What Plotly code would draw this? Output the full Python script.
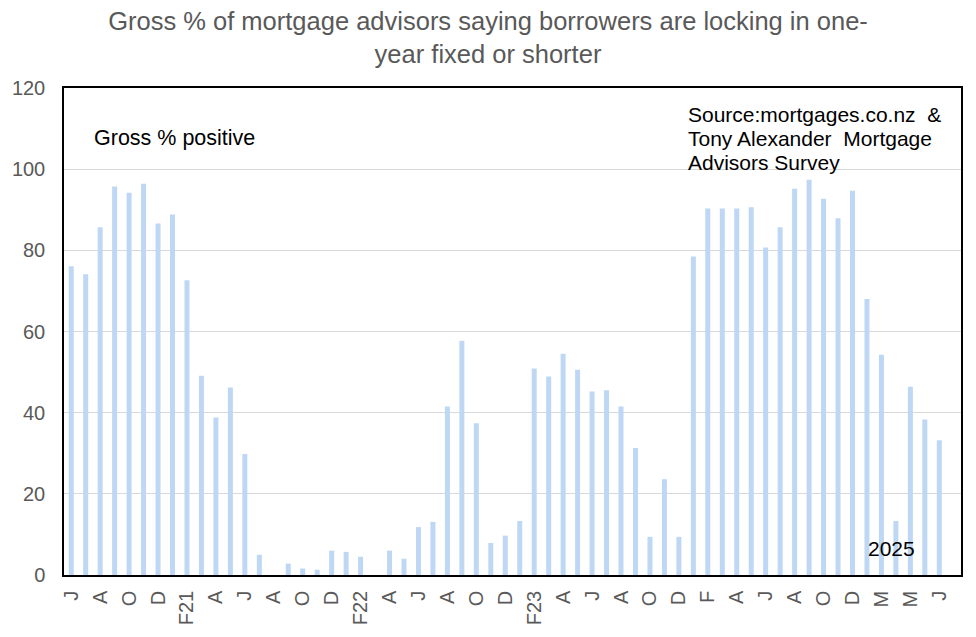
import plotly.graph_objects as go

months = (
    [f"2020-{m:02d}" for m in range(6, 13)]
    + [f"{y}-{m:02d}" for y in (2021, 2022, 2023, 2024) for m in range(1, 13)]
    + [f"2025-{m:02d}" for m in range(2, 8)]
)

values = [
    76.1, 74.1, 85.7, 95.7, 94.2, 96.4, 86.6,
    88.8, 72.6, 49.1, 38.8, 46.2, 29.8, 5.0, 0.0, 2.8, 1.6, 1.3, 6.0,
    5.7, 4.5, 0.0, 6.0, 4.0, 11.8, 13.1, 41.5, 57.7, 37.4, 7.9, 9.7,
    13.3, 50.9, 48.9, 54.5, 50.6, 45.2, 45.5, 41.5, 31.3, 9.4, 23.6, 9.4,
    78.5, 90.3, 90.3, 90.3, 90.6, 80.7, 85.7, 95.2, 97.4, 92.7, 87.9, 94.7,
    68.0, 54.3, 13.3, 46.4, 38.3, 33.2,
]

tick_labels = ["J", "A", "O", "D", "F21", "A", "J", "A", "O", "D", "F22", "A", "J", "A",
               "O", "D", "F23", "A", "J", "A", "O", "D", "F", "A", "J", "A", "O", "D",
               "M", "M", "J"]

y_ticks = [0, 20, 40, 60, 80, 100, 120]

title_text = ("Gross % of mortgage advisors saying borrowers are locking in one-"
              "<br>year fixed or shorter")
source_lines = ["Source:mortgages.co.nz  &", "Tony Alexander  Mortgage", "Advisors Survey"]

FONT = "Liberation Sans, Arial, sans-serif"
GREY = "#595959"

fig = go.Figure(
    go.Bar(x=months, y=values, marker=dict(color="#BDD7F4", line=dict(width=0)))
)

fig.update_layout(
    width=976, height=637,
    margin=dict(l=62, r=15, t=88, b=59),
    paper_bgcolor="white", plot_bgcolor="white",
    bargap=0.655,
    showlegend=False,
    font=dict(family=FONT, color=GREY),
    title=dict(text=title_text, x=0.5, xref="container", xanchor="center",
               y=1 - 29.5 / 637, yref="container", yanchor="middle",
               font=dict(family=FONT, size=25.5, color=GREY)),
)

fig.update_xaxes(
    type="category", range=[-0.5, 61.5],
    tickmode="array", tickvals=months[::2], ticktext=tick_labels,
    tickangle=-90, tickfont=dict(size=20, color=GREY),
    showline=True, linecolor="black", linewidth=1.5, mirror=True,
    showgrid=False, ticks="", ticklabelstandoff=6,
)
fig.update_yaxes(
    range=[0, 120], tickvals=y_ticks,
    tickfont=dict(size=20, color=GREY),
    showline=True, linecolor="black", linewidth=1.5, mirror=True,
    showgrid=True, gridcolor="#D9D9D9", gridwidth=1,
    zeroline=False, ticks="", ticklabelstandoff=13,
)

fig.add_annotation(text="Gross % positive", xref="paper", yref="paper",
                   x=(90 - 62) / 899, y=(578 - 138) / 490, xanchor="left", yanchor="middle",
                   showarrow=False, font=dict(family=FONT, size=21.5, color="black"))

for i, line in enumerate(source_lines):
    fig.add_annotation(text=line, xref="paper", yref="paper",
                       x=(685 - 62) / 899, y=(578 - (115 + 24 * i)) / 490,
                       xanchor="left", yanchor="middle", showarrow=False,
                       font=dict(family=FONT, size=21, color="black"))

fig.add_annotation(text="2025", xref="paper", yref="paper",
                   x=(866 - 62) / 899, y=(578 - 551) / 490, xanchor="left", yanchor="middle",
                   showarrow=False, font=dict(family=FONT, size=21, color="black"))

fig.write_html("out.html", config={"displayModeBar": False},
               post_script="document.body.style.margin='0px';")
